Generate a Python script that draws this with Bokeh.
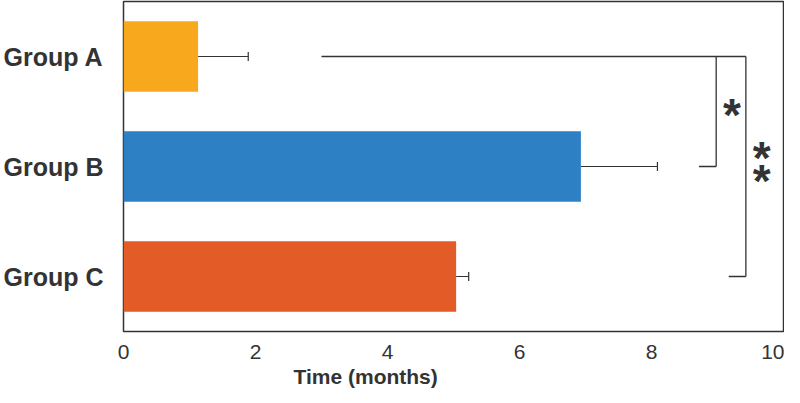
from bokeh.plotting import figure
from bokeh.models import Range1d, FixedTicker, Whisker, ColumnDataSource, Title, TeeHead
from bokeh.core.properties import value
from bokeh.embed import file_html
from bokeh.resources import INLINE

# ---- data ----
groups = ["Group A", "Group B", "Group C"]
means = [1.13, 6.93, 5.04]
errors = [0.76, 1.16, 0.19]
colors = ["#F8A81C", "#2C80C3", "#E35B26"]
x_ticks = [0, 2, 4, 6, 8, 10]
x_label = "Time (months)"

# significance brackets: group1, group2, x of vertical line, x start of lower arm, label
sig_group1 = ["Group A", "Group A"]
sig_group2 = ["Group B", "Group C"]
sig_vx = [8.98, 9.43]
sig_arm_start = [8.72, 9.17]
sig_labels = ["*", "**"]
top_arm_start = 3.0

FONT = "Liberation Sans"
DARK = "#333333"

ypos = {g: len(groups) - i for i, g in enumerate(groups)}
ys = [ypos[g] for g in groups]

p = figure(width=784, height=389, output_backend="svg", toolbar_location=None,
           x_range=Range1d(0, 10), y_range=Range1d(0.5, len(groups) + 0.5),
           min_border_left=114, min_border_right=1, min_border_top=1, min_border_bottom=8)
p.background_fill_color = "white"
p.border_fill_color = "white"
p.outline_line_color = DARK
p.outline_line_width = 1.5
p.xgrid.visible = False
p.ygrid.visible = False

src = ColumnDataSource(dict(y=ys, right=means, color=colors,
                            upper=[m + e for m, e in zip(means, errors)]))
p.hbar(y="y", left=0, right="right", height=0.64, color="color", line_color=None, source=src)

wh = Whisker(base="y", lower="right", upper="upper", dimension="width", source=src,
             line_color=DARK, line_width=1.2, lower_head=None,
             upper_head=TeeHead(size=9, line_color=DARK, line_width=1.2))
p.add_layout(wh)

# brackets
top_y = ypos[sig_group1[0]]
p.segment(x0=[top_arm_start], y0=[top_y], x1=[max(sig_vx)], y1=[top_y], line_color=DARK, line_width=1.3)
vy0 = [ypos[g] for g in sig_group1]
vy1 = [ypos[g] for g in sig_group2]
p.segment(x0=sig_vx, y0=vy0, x1=sig_vx, y1=vy1, line_color=DARK, line_width=1.3)
p.segment(x0=sig_arm_start, y0=vy1, x1=sig_vx, y1=vy1, line_color=DARK, line_width=1.3)

# star labels, stacked vertically like the reference
sx, sy, st, soff = [], [], [], []
for vx, a, b, lab in zip(sig_vx, vy0, vy1, sig_labels):
    n = len(lab)
    for k, ch in enumerate(lab):
        sx.append(vx + 0.24)
        sy.append((a + b) / 2)
        st.append(ch)
        soff.append((k - (n - 1) / 2) * 23 + 3)
p.text(x=sx, y=sy, text=st, y_offset=soff,
       text_font=value(FONT), text_font_style="bold", text_font_size="46px",
       text_color=DARK, text_align="center", text_baseline="middle")

# axes
p.xaxis.ticker = FixedTicker(ticks=x_ticks)
p.xaxis.axis_line_color = None
p.xaxis.major_tick_line_color = None
p.xaxis.minor_tick_line_color = None
p.xaxis.major_label_text_font = FONT
p.xaxis.major_label_text_font_size = "21px"
p.xaxis.major_label_text_color = DARK
p.xaxis.major_label_standoff = 7

p.yaxis.ticker = FixedTicker(ticks=ys)
p.yaxis.major_label_overrides = {ypos[g]: g for g in groups}
p.yaxis.axis_line_color = None
p.yaxis.major_tick_line_color = None
p.yaxis.minor_tick_line_color = None
p.yaxis.major_label_text_font = FONT
p.yaxis.major_label_text_font_style = "bold"
p.yaxis.major_label_text_font_size = "25px"
p.yaxis.major_label_text_color = DARK
p.yaxis.major_label_standoff = 14

p.add_layout(Title(text=x_label, align="left", offset=170, text_font=FONT,
                   text_font_style="bold", text_font_size="21px", text_color=DARK,
                   standoff=3), "below")

open("out.html", "w").write(file_html(p, INLINE))
